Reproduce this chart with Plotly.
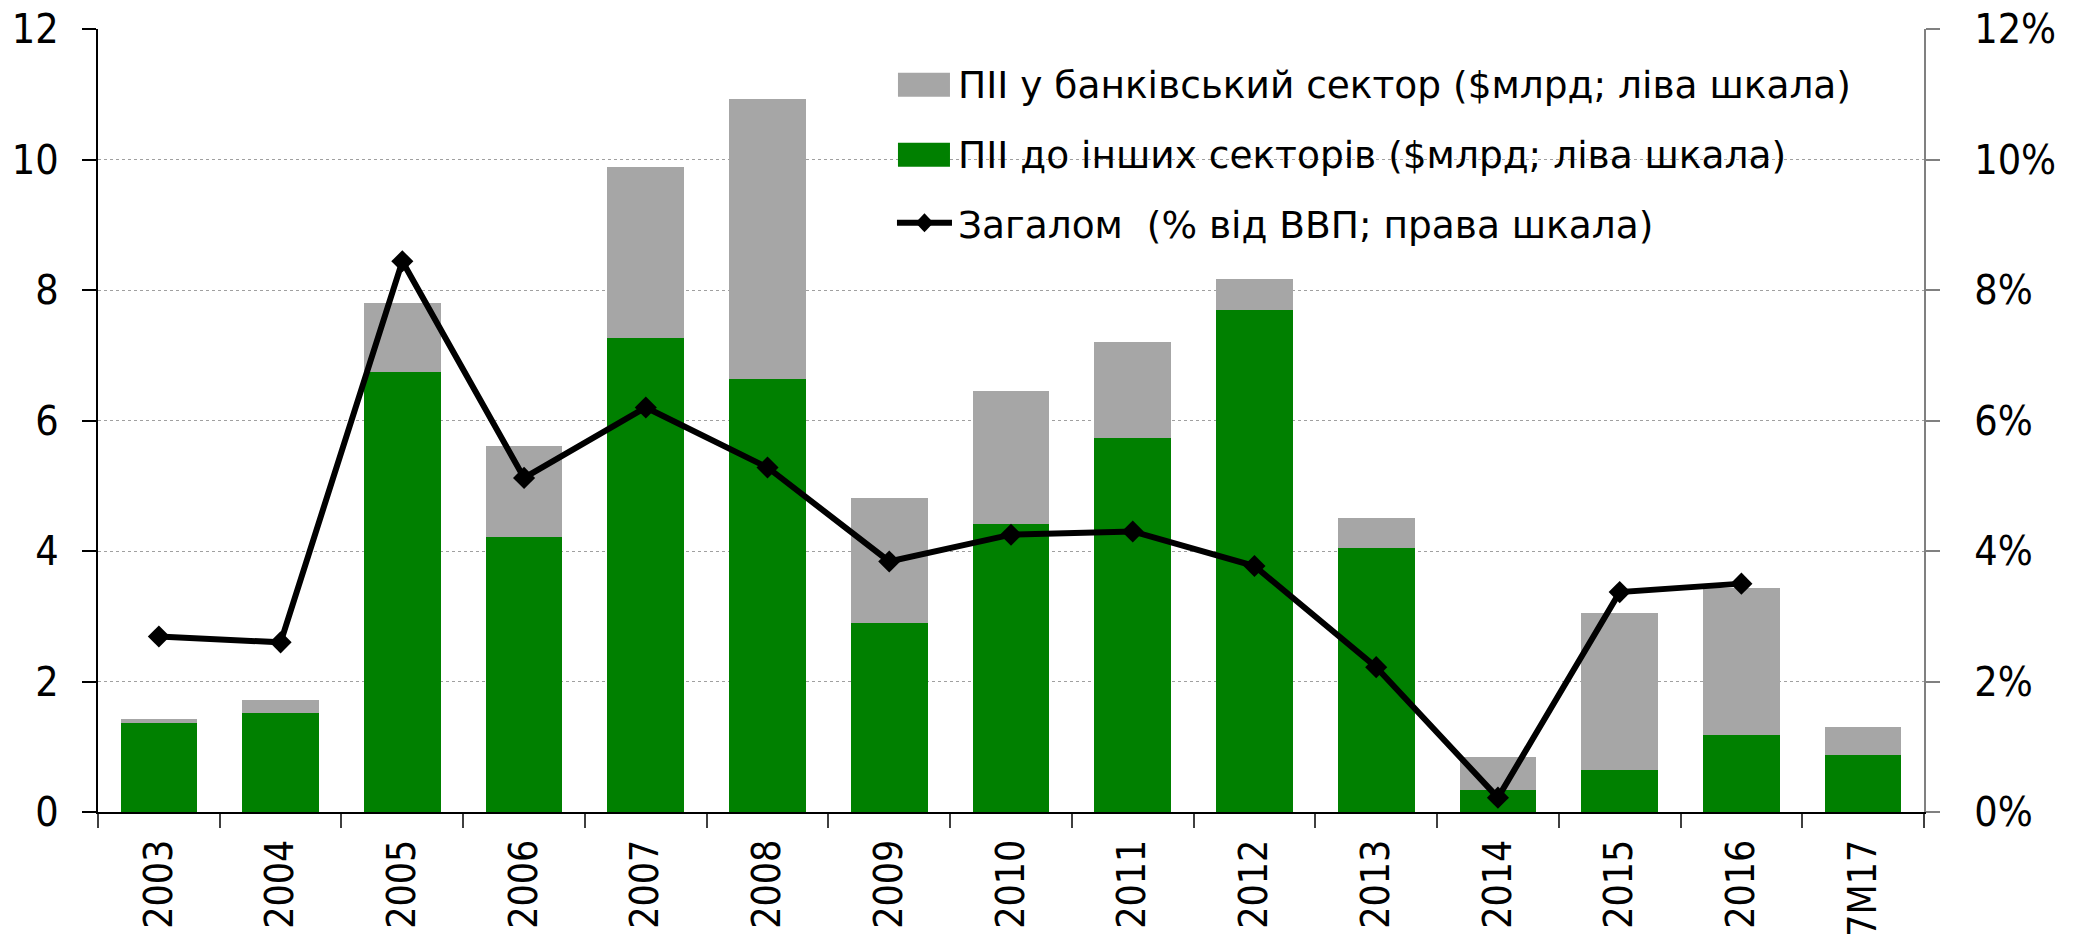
import plotly.graph_objects as go

categories = ["2003", "2004", "2005", "2006", "2007", "2008", "2009", "2010",
              "2011", "2012", "2013", "2014", "2015", "2016", "7M17"]
other_sectors = [1.36, 1.52, 6.75, 4.21, 7.27, 6.64, 2.89, 4.41,
                 5.73, 7.69, 4.04, 0.34, 0.65, 1.18, 0.87]
bank_sector = [0.06, 0.19, 1.05, 1.40, 2.61, 4.28, 1.93, 2.04,
               1.47, 0.48, 0.47, 0.50, 2.40, 2.26, 0.43]
total_gdp_pct = [2.69, 2.60, 8.44, 5.12, 6.20, 5.28, 3.84, 4.25,
                 4.30, 3.77, 2.22, 0.22, 3.37, 3.50, None]

legend_labels = ["ПІІ у банківський сектор ($млрд; ліва шкала)",
                 "ПІІ до інших секторів ($млрд; ліва шкала)",
                 "Загалом \u00a0(% від ВВП; права шкала)"]

GREEN = "#008000"
GRAY = "#A6A6A6"
FONT = "DejaVu Sans Condensed"
LEGEND_FONT = "DejaVu Sans"

fig = go.Figure()
fig.add_trace(go.Bar(x=categories, y=other_sectors, marker_color=GREEN,
                     marker_line_width=0, name=legend_labels[1], showlegend=False))
fig.add_trace(go.Bar(x=categories, y=bank_sector, marker_color=GRAY,
                     marker_line_width=0, name=legend_labels[0], showlegend=False))
fig.add_trace(go.Scatter(x=categories, y=total_gdp_pct, yaxis="y2", mode="lines+markers",
                         line=dict(color="black", width=6),
                         marker=dict(symbol="diamond", size=17, color="black"),
                         name=legend_labels[2], showlegend=False, connectgaps=False))

# plot area in pixels
L, R, T, B = 98.3, 1923.7, 29.3, 812.3
W, H = R - L, B - T
def px(x):
    return (x - L) / W
def py(y):
    return (B - y) / H

shapes = [
    dict(type="rect", xref="paper", yref="paper", x0=px(898), x1=px(950),
         y0=py(97), y1=py(73), fillcolor=GRAY, line_width=0),
    dict(type="rect", xref="paper", yref="paper", x0=px(898), x1=px(950),
         y0=py(167), y1=py(143), fillcolor=GREEN, line_width=0),
    dict(type="line", xref="paper", yref="paper", x0=px(897), x1=px(952),
         y0=py(223), y1=py(223), line=dict(color="black", width=6)),
    dict(type="path", xref="paper", yref="paper", xsizemode="pixel", ysizemode="pixel",
         xanchor=px(924.5), yanchor=py(223), path="M -9 0 L 0 9.5 L 9 0 L 0 -9.5 Z",
         fillcolor="black", line_width=0),
]
annotations = []
for lbl, yc in zip(legend_labels, [85, 155, 225]):
    annotations.append(dict(text=lbl, xref="paper", yref="paper", x=px(956), y=py(yc),
                            xanchor="left", yanchor="middle", showarrow=False,
                            font=dict(family=LEGEND_FONT, size=37.5, color="black")))

fig.update_layout(
    width=2074, height=942,
    margin=dict(l=L, r=2074 - R, t=T, b=942 - B, autoexpand=False),
    paper_bgcolor="white", plot_bgcolor="white",
    barmode="stack", bargap=0.37,
    font=dict(family=FONT, size=40, color="black"),
    shapes=shapes, annotations=annotations,
    xaxis=dict(type="category", range=[-0.5, 14.5], autorange=False, automargin=False,
               showline=True, linecolor="black", linewidth=2,
               ticks="outside", tickson="boundaries", ticklen=14, tickcolor="#404040",
               tickwidth=2, tickangle=-90, ticklabelstandoff=10,
               tickfont=dict(family=FONT, size=39, color="black"), showgrid=False),
    yaxis=dict(range=[0, 12], dtick=2, automargin=False, showline=True,
               linecolor="black", linewidth=2,
               ticks="outside", ticklen=14, tickcolor="black", tickwidth=2,
               showgrid=True, gridcolor="#A0A0A0", griddash="dot", gridwidth=1,
               zeroline=False, ticklabelstandoff=15,
               tickfont=dict(family=FONT, size=41, color="black")),
    yaxis2=dict(range=[0, 12], dtick=2, overlaying="y", side="right", automargin=False,
                showline=True, linecolor="#808080", linewidth=2, ticks="outside",
                ticklen=14, tickcolor="#808080", tickwidth=2, ticksuffix="%",
                showgrid=False, zeroline=False, ticklabelstandoff=26,
                tickfont=dict(family=FONT, size=41, color="black")),
)

fig.write_html("out.html", config={"displayModeBar": False},
               post_script="document.body.style.margin='0';document.body.style.padding='0';")
